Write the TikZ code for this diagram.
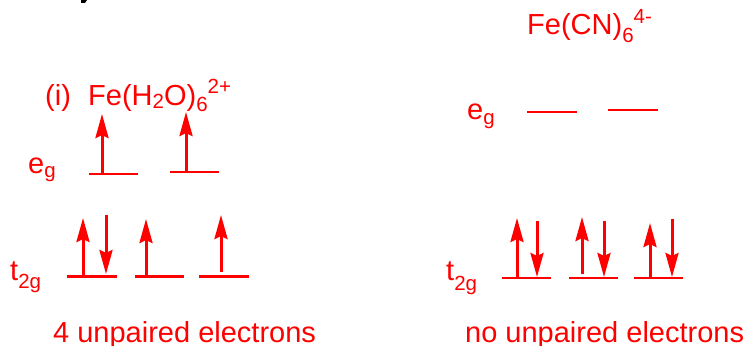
\documentclass[tikz,border=0pt]{standalone}
\usepackage{fontspec}
\setmainfont{Liberation Sans}
\usetikzlibrary{arrows.meta}
\definecolor{lred}{RGB}{255,0,0}
\newcommand{\lsub}[2]{\raisebox{-#1pt}{\fontsize{20.5}{20.5}\selectfont #2}}
\newcommand{\lsup}[2]{\raisebox{#1pt}{\fontsize{20.5}{20.5}\selectfont #2}}
\tikzset{
  lbl/.style={text=lred, inner sep=0pt, anchor=base west, font=\fontsize{29}{29}\selectfont},
  lvl/.style={draw=lred, line width=2.8pt},
  spin/.style={draw=lred, line width=3pt, -{Stealth[length=24pt,width=13pt,inset=3pt]}},
}
\begin{document}
\begin{tikzpicture}[x=1pt,y=-1pt]
\useasboundingbox (0,0) rectangle (746,345);
% cut-off fragment at top
\fill[black] (81,0) -- (87,0) -- (85,3) -- (81,3) -- cycle;

% ---------- left: Fe(H2O)6 2+ ----------
\node[lbl] (li) at (45,105) {(i)};
\node[lbl] (lform) at (88,105) {Fe(H\lsub{3}{2}O)\lsub{6}{6}\lsup{12}{2+}};
\node[lbl] (leg) at (28,173) {e\lsub{4}{g}};
\node[lbl] (lt2g) at (10,280) {t\lsub{8}{2g}};
\node[lbl] (lnote) at (53,342.5) {4 unpaired electrons};

\draw[lvl] (89,174) -- (138,174);
\draw[lvl] (170,172) -- (219,172);
\draw[spin] (102,174) -- (102,114);
\draw[spin] (186,172) -- (186,112);

\draw[lvl] (67,276.5) -- (117,276.5);
\draw[lvl] (135,276.5) -- (184,276.5);
\draw[lvl] (199,276.5) -- (249,276.5);
\draw[spin] (83,276) -- (83,218);
\draw[spin] (106,215) -- (106,274);
\draw[spin] (146,276) -- (146,219);
\draw[spin] (221,272) -- (221,215);

% ---------- right: Fe(CN)6 4- ----------
\node[lbl] (rform) at (527,35) {Fe(CN)\lsub{8}{6}\lsup{12}{4-}};
\node[lbl] (reg) at (467,119) {e\lsub{5}{g}};
\node[lbl] (rt2g) at (446,280) {t\lsub{10}{2g}};
\node[lbl] (rnote) at (465,342.5) {no unpaired electrons};

\draw[lvl] (527,112) -- (577,112);
\draw[lvl] (608,110) -- (658,110);

\draw[lvl] (502,278) -- (551,278);
\draw[lvl] (569,278) -- (618,278);
\draw[lvl] (634,278) -- (683,278);
\draw[spin] (517,278) -- (517,218);
\draw[spin] (537,221) -- (537,277);
\draw[spin] (582,274) -- (582,217);
\draw[spin] (604,221) -- (604,277);
\draw[spin] (650,278) -- (650,223);
\draw[spin] (672,219) -- (672,277);
\end{tikzpicture}
\end{document}
